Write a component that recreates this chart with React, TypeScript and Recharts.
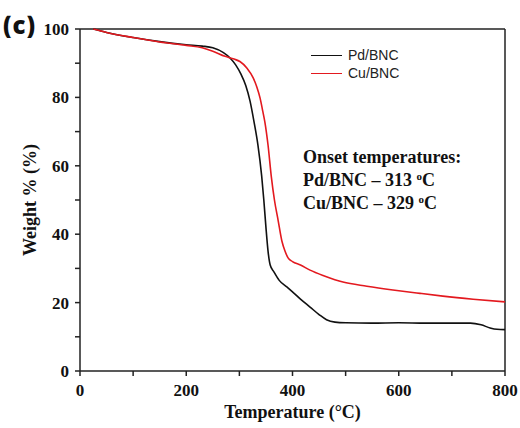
import { Label, Legend, Line, LineChart, ReferenceLine, XAxis, YAxis } from 'recharts';

// TGA curves
const pdTemp = [25, 50, 100, 150, 200, 230, 250, 270, 282, 293, 303, 312, 320, 328, 335, 342, 346, 350, 354, 358, 365, 375, 390, 401, 415, 433, 450, 464, 480, 500, 550, 600, 650, 700, 735, 755, 772, 785, 800];
const pdWeight = [100, 99.0, 97.5, 96.3, 95.4, 95.0, 94.5, 93.1, 91.6, 89.5, 86.8, 83.5, 79, 72.5, 66, 57, 50, 42, 35, 31, 29, 26.5, 24.5, 23, 21, 18.7, 16.5, 15, 14.3, 14.1, 14.0, 14.1, 14.0, 14.0, 14.0, 13.5, 12.6, 12.2, 12.1];
const cuTemp = [25, 50, 100, 150, 200, 230, 250, 273, 290, 301, 314, 326, 333, 339, 344, 348, 354, 360, 366, 373, 380, 386, 392, 400, 415, 433, 460, 495, 540, 589, 640, 683, 740, 800];
const cuWeight = [100, 99.0, 97.5, 96.2, 95.2, 94.5, 93.5, 92.0, 91.2, 90.5, 88.6, 85.7, 83, 79.8, 76, 72.8, 66, 57, 50, 44, 38, 35, 33, 32, 31, 29.5, 27.8, 26, 24.8, 23.7, 22.7, 21.9, 21.0, 20.2];

const xTicks = [0, 100, 200, 300, 400, 500, 600, 700, 800];
const yTicks = [0, 10, 20, 30, 40, 50, 60, 70, 80, 90, 100];
const seriesNames = ['Pd/BNC', 'Cu/BNC'];
const seriesColors = ['#111111', '#e3191f'];
const onsetValues = ['313', '329'];

const pdData = pdTemp.map((t, i) => ({ t, w: pdWeight[i] }));
const cuData = cuTemp.map((t, i) => ({ t, w: cuWeight[i] }));
const seriesData = [pdData, cuData];

const serif = '"Liberation Serif", "Times New Roman", serif';
const axisColor = '#222';

function XTick({ x, y, payload }: any) {
  if (payload.value % 200 !== 0) return null;
  return (
    <text x={x} y={y} dy={18} textAnchor="middle" fill="#111" style={{ fontFamily: serif, fontWeight: 700, fontSize: 17 }}>
      {payload.value}
    </text>
  );
}

function YTick({ x, y, payload }: any) {
  if (payload.value % 20 !== 0) return null;
  return (
    <text x={x} y={y} dx={-4} dy={6} textAnchor="end" fill="#111" style={{ fontFamily: serif, fontWeight: 700, fontSize: 17 }}>
      {payload.value}
    </text>
  );
}

function LegendBox() {
  return (
    <div style={{ fontFamily: '"Liberation Sans", Arial, sans-serif', fontSize: 14, color: '#222' }}>
      {seriesNames.map((name, i) => (
        <div key={name} style={{ display: 'flex', alignItems: 'center', height: 18 }}>
          <span style={{ display: 'inline-block', width: 31, height: 0, borderTop: `1.6px solid ${seriesColors[i]}`, marginRight: 6 }} />
          {name}
        </div>
      ))}
    </div>
  );
}

export default function App() {
  return (
    <div style={{ position: 'absolute', left: 0, top: 0, width: 520, height: 428, background: '#fff' }}>
      <LineChart width={520} height={428} margin={{ top: 29, right: 15, bottom: 0, left: 0 }}>
        <XAxis
          dataKey="t"
          type="number"
          domain={[0, 800]}
          ticks={xTicks}
          allowDuplicatedCategory={false}
          height={57}
          tickSize={5}
          stroke={axisColor}
          strokeWidth={1.5}
          tick={<XTick />}
        >
          <Label
            content={({ viewBox }: any) => (
              <text x={viewBox.x + viewBox.width / 2} y={418} textAnchor="middle" fill="#111" style={{ fontFamily: serif, fontWeight: 700, fontSize: 18 }}>
                Temperature (°C)
              </text>
            )}
          />
        </XAxis>
        <YAxis
          dataKey="w"
          type="number"
          domain={[0, 100]}
          ticks={yTicks}
          width={80}
          tickSize={5}
          stroke={axisColor}
          strokeWidth={1.5}
          tick={<YTick />}
        >
          <Label
            content={({ viewBox }: any) => {
              const cy = viewBox.y + viewBox.height / 2;
              return (
                <text x={30} y={cy} transform={`rotate(-90 30 ${cy})`} dy={6} textAnchor="middle" fill="#111" style={{ fontFamily: serif, fontWeight: 700, fontSize: 18 }}>
                  Weight % (%)
                </text>
              );
            }}
          />
        </YAxis>
        <ReferenceLine y={100} stroke={axisColor} strokeWidth={1.5} />
        <ReferenceLine x={800} stroke={axisColor} strokeWidth={1.5} />
        <Legend
          layout="horizontal"
          verticalAlign="middle"
          align="center"
          content={<LegendBox />}
          wrapperStyle={{ position: 'absolute', left: 311, top: 46, width: 'auto' }}
        />
        {seriesData.map((d, i) => (
          <Line
            key={seriesNames[i]}
            data={d}
            dataKey="w"
            name={seriesNames[i]}
            type="monotone"
            stroke={seriesColors[i]}
            strokeWidth={1.6}
            dot={false}
            activeDot={false}
            isAnimationActive={false}
          />
        ))}
      </LineChart>
      <div style={{ position: 'absolute', left: 3, top: 8, fontFamily: '"Open Sans", sans-serif', fontWeight: 800, fontSize: 24, letterSpacing: 1, color: '#111' }}>(c)</div>
      <div style={{ position: 'absolute', left: 303, top: 146, fontFamily: serif, fontWeight: 700, fontSize: 18, lineHeight: '23px', color: '#111', whiteSpace: 'nowrap' }}>
        <div>Onset temperatures:</div>
        {seriesNames.map((name, i) => (
          <div key={name}>
            {name} – {onsetValues[i]} <sup style={{ fontSize: 11, verticalAlign: 'top', lineHeight: '14px' }}>o</sup>C
          </div>
        ))}
      </div>
    </div>
  );
}
